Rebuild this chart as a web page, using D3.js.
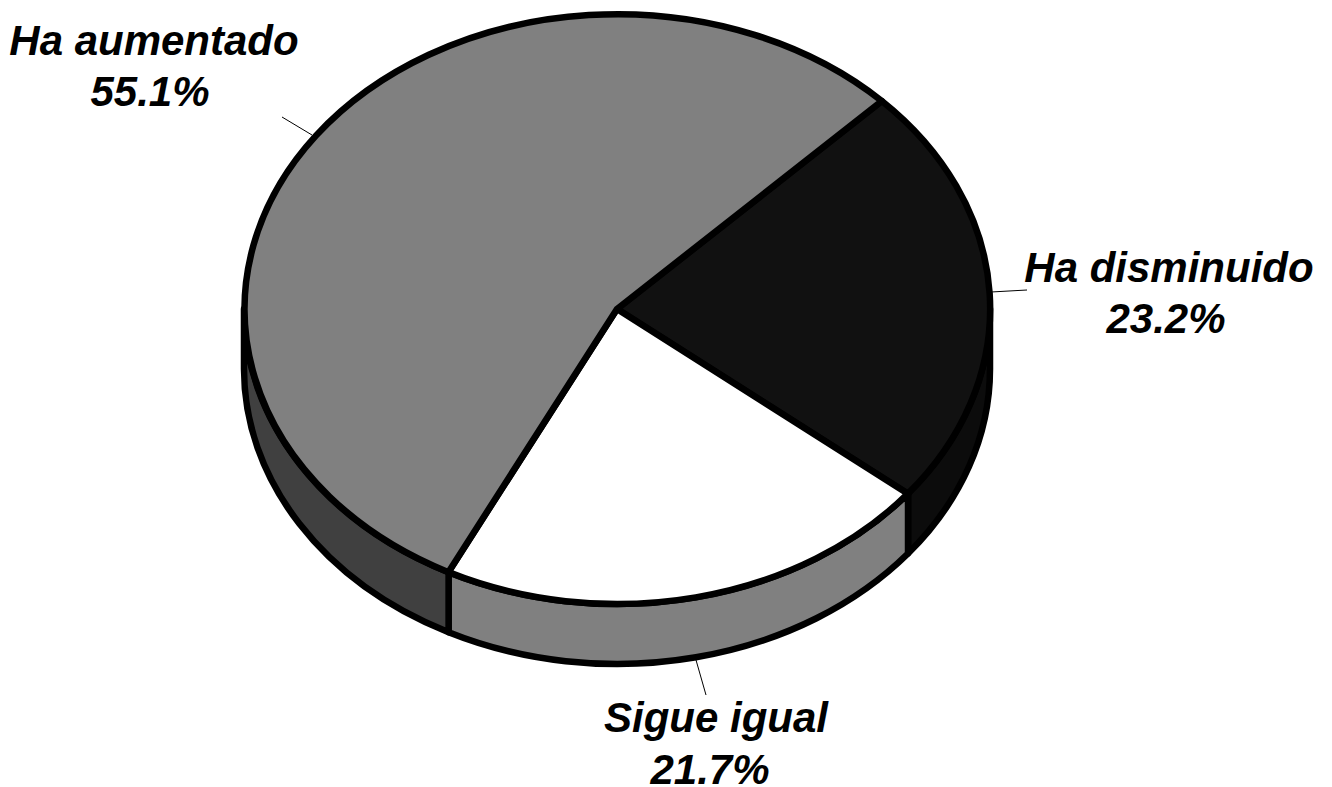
<html>
<script src='https://d3js.org/d3.v7.min.js'></script>
<style>
body {margin: 0; background: #fff;}
text {font-family: 'Liberation Sans', Arial, sans-serif; font-size: 42px; font-weight: bold; font-style: italic; fill: #000; text-anchor: middle;}
</style>
<body>
<svg width=1332 height=787></svg>
<script>
const labels = ['Ha disminuido', 'Sigue igual', 'Ha aumentado'];
const values = [23.2, 21.7, 55.1];
const topColors = ['#111111', '#ffffff', '#808080'];
const sideColors = ['#0c0c0c', '#808080', '#404040'];

const cx = 617, cy = 309, rx = 373, ry = 295, depth = 60;
const startDeg = 45.2;
const svg = d3.select('svg');

const pie = d3.pie().sort(null)
	.startAngle(startDeg * Math.PI / 180)
	.endAngle((startDeg + 360) * Math.PI / 180);
const arcs = pie(values);

const ex = a => cx + rx * Math.sin(a);
const ey = (a, dy) => cy + dy - ry * Math.cos(a);

function wall(a0, a1) {
	// outer band between a0 and a1, only the front half is visible
	const from = Math.max(a0, Math.PI / 2), to = Math.min(a1, Math.PI * 1.5);
	if (to <= from) return null;
	return 'M' + ex(from) + ',' + ey(from, 0)
		+ ' A' + rx + ',' + ry + ' 0 0 1 ' + ex(to) + ',' + ey(to, 0)
		+ ' L' + ex(to) + ',' + ey(to, depth)
		+ ' A' + rx + ',' + ry + ' 0 0 0 ' + ex(from) + ',' + ey(from, depth) + ' Z';
}

const g = svg.append('g');

g.selectAll('path.wall')
	.data(arcs)
	.enter()
	.append('path')
	.attr('class', 'wall')
	.attr('d', d => wall(d.startAngle, d.endAngle))
	.attr('fill', (d, i) => sideColors[i])
	.attr('stroke', '#000')
	.attr('stroke-width', 6.5)
	.attr('stroke-linejoin', 'round');

// unit circle squashed into the ellipse
const arc = d3.arc().innerRadius(0).outerRadius(1);

g.append('g')
	.attr('transform', 'translate(' + cx + ',' + cy + ') scale(' + rx + ',' + ry + ')')
	.selectAll('path.top')
	.data(arcs)
	.enter()
	.append('path')
	.attr('class', 'top')
	.attr('d', arc)
	.attr('fill', (d, i) => topColors[i])
	.attr('stroke', '#000')
	.attr('stroke-width', 6.5)
	.attr('stroke-linejoin', 'round')
	.attr('vector-effect', 'non-scaling-stroke');

// leader lines and labels
const leaders = [[991, 292, 1027, 290], [696, 660, 706, 695], [312, 135, 282, 117]];
const labelPos = [[1169, 282], [716, 732], [154, 55]];
const percentPos = [[1166, 333], [710, 784], [150, 106]];

svg.selectAll('line.leader')
	.data(leaders)
	.enter()
	.append('line')
	.attr('x1', d => d[0]).attr('y1', d => d[1])
	.attr('x2', d => d[2]).attr('y2', d => d[3])
	.attr('stroke', '#000')
	.attr('stroke-width', 1);

labels.forEach(function (l, i) {
	const t = svg.append('text');
	t.append('tspan').attr('x', labelPos[i][0]).attr('y', labelPos[i][1]).text(l);
	t.append('tspan').attr('x', percentPos[i][0]).attr('y', percentPos[i][1]).text(values[i].toFixed(1) + '%');
});
</script>
</body>
</html>
